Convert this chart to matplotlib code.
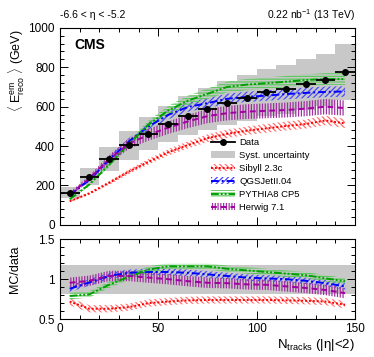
import matplotlib
matplotlib.use("Agg")
import matplotlib.pyplot as plt
from matplotlib.patches import Patch
from matplotlib.lines import Line2D
from matplotlib.ticker import MultipleLocator
import numpy as np

plt.rcParams['font.family'] = ['Liberation Sans', 'DejaVu Sans']
plt.rcParams['mathtext.fontset'] = 'custom'
plt.rcParams['mathtext.rm'] = 'Liberation Sans'
plt.rcParams['mathtext.it'] = 'Liberation Sans:italic'
plt.rcParams['mathtext.bf'] = 'Liberation Sans:bold'
plt.rcParams['hatch.linewidth'] = 0.9

# bin centres of N_tracks
nch = [5, 15, 25, 35, 45, 55, 65, 75, 85, 95, 105, 115, 125, 135, 145]
bin_half = 5

# data (GeV)
data = [164, 245, 333, 404, 463, 511, 555, 589, 617, 643, 672, 689, 713, 733, 776]
data_err = [4, 4, 4, 4, 4, 4, 4, 4, 5, 5, 5, 6, 7, 8, 10]
syst_up = 0.18
syst_dn = 0.18

# generator predictions (GeV)
sibyll = [120, 160, 213, 270, 320, 368, 405, 440, 462, 478, 490, 502, 512, 530, 515]
qgsjet = [152, 228, 330, 423, 499, 558, 598, 618, 640, 650, 656, 664, 670, 675, 677]
pythia = [130, 205, 305, 410, 508, 580, 630, 665, 700, 712, 719, 727, 735, 740, 740]
herwig = [155, 235, 332, 412, 457, 493, 525, 552, 567, 575, 579, 583, 590, 600, 593]

# MC/data ratios
sibyll_r = [0.72, 0.63, 0.63, 0.65, 0.70, 0.72, 0.735, 0.74, 0.74, 0.74, 0.74, 0.735, 0.73, 0.72, 0.68]
qgsjet_r = [0.88, 0.96, 1.04, 1.08, 1.09, 1.09, 1.08, 1.06, 1.04, 1.02, 1.01, 1.0, 0.98, 0.95, 0.91]
pythia_r = [0.79, 0.81, 0.93, 1.03, 1.12, 1.16, 1.16, 1.16, 1.13, 1.11, 1.09, 1.07, 1.05, 1.01, 0.975]
herwig_r = [0.955, 0.98, 1.04, 1.04, 1.02, 1.0, 0.975, 0.955, 0.95, 0.935, 0.93, 0.91, 0.89, 0.865, 0.825]

# relative model uncertainties
rel_unc = {'sibyll': 0.045, 'qgsjet': 0.04, 'pythia': 0.04, 'herwig': 0.065}

models = [
    ('sibyll', 'Sibyll 2.3c', sibyll, sibyll_r, 'red', '#ff7070', '\\\\\\\\\\\\', (0, (1, 1))),
    ('qgsjet', 'QGSJetII.04', qgsjet, qgsjet_r, 'blue', '#4a4aff', '//////', (0, (4, 1.5, 1, 1.5))),
    ('pythia', 'PYTHIA8 CP5', pythia, pythia_r, '#00a000', '#60c860', '------', (0, (4, 1, 1, 1, 1, 1))),
    ('herwig', 'Herwig 7.1', herwig, herwig_r, '#a000a0', '#a030a0', '||||||', (0, (3, 2))),
]

fig = plt.figure(figsize=(3.74, 3.57), dpi=100)
ax = fig.add_axes([0.160, 0.370, 0.789, 0.552])
axr = fig.add_axes([0.160, 0.106, 0.789, 0.224])

x = np.array(nch)

# systematic boxes
for xi, di in zip(nch, data):
    ax.fill_between([xi - bin_half, xi + bin_half], di * (1 - syst_dn), di * (1 + syst_up),
                    color='#c8c8c8', lw=0, zorder=1)
axr.axhspan(1 - syst_dn, 1 + syst_up, color='#c8c8c8', lw=0, zorder=1)

handles = []
for key, label, vals, ratio, col, hcol, hatch, ls in models:
    v = np.array(vals)
    r = np.array(ratio)
    u = rel_unc[key]
    ax.fill_between(x, v * (1 - u), v * (1 + u), facecolor='none', edgecolor=hcol,
                    hatch=hatch, lw=0, zorder=2)
    ax.plot(x, v, color=col, ls=ls, lw=1.4, zorder=3)
    axr.fill_between(x, r - u, r + u, facecolor='none', edgecolor=hcol,
                     hatch=hatch, lw=0, zorder=2)
    axr.plot(x, r, color=col, ls=ls, lw=1.4, zorder=3)
    handles.append((Patch(facecolor='none', edgecolor=hcol, hatch=hatch, lw=0),
                    Line2D([], [], color=col, ls=ls, lw=1.4)))

ax.errorbar(nch, data, yerr=data_err, xerr=bin_half, fmt='o', color='black',
            ms=4, elinewidth=1.3, capsize=0, zorder=5)

data_handle = (Line2D([], [], color='black', lw=1.3),
               Line2D([], [], color='black', marker='o', ms=4, ls='none'))
syst_patch = Patch(facecolor='#c8c8c8', edgecolor='none')
ax.legend([data_handle, syst_patch] + handles,
          ['Data', 'Syst. uncertainty'] + [m[1] for m in models],
          loc='upper left', bbox_to_anchor=(0.50, 0.46), frameon=False,
          fontsize=6.8, handlelength=2.5, handletextpad=0.5, labelspacing=0.42,
          borderaxespad=0)

for a in (ax, axr):
    a.set_xlim(0, 150)
    a.xaxis.set_major_locator(MultipleLocator(50))
    a.xaxis.set_minor_locator(MultipleLocator(10))
    a.tick_params(which='both', direction='in', top=True, right=True, labelsize=8.5)
    a.tick_params(which='major', length=6, width=0.7)
    a.tick_params(which='minor', length=3, width=0.7)
    for s in a.spines.values():
        s.set_linewidth(0.8)

ax.set_ylim(0, 1000)
ax.yaxis.set_major_locator(MultipleLocator(200))
ax.yaxis.set_minor_locator(MultipleLocator(40))
ax.tick_params(labelbottom=False)

axr.set_ylim(0.5, 1.5)
axr.yaxis.set_minor_locator(MultipleLocator(0.1))
axr.set_yticks([0.5, 1.0, 1.5])
axr.set_yticklabels(['0.5', '1', '1.5'])
axr.tick_params(axis='x', pad=3)

ax.text(0.05, 0.95, 'CMS', transform=ax.transAxes, fontsize=10, fontweight='bold',
        ha='left', va='top')
fig.text(0.160, 0.958, '-6.6 < \u03b7 < -5.2', fontsize=7.5, ha='left', va='center')
fig.text(0.949, 0.958, r'0.22 nb$^{\mathrm{-1}}$ (13 TeV)', fontsize=7.5, ha='right', va='center')

fig.text(0.045, 0.918, r'$\langle$ E$^{\mathrm{em}}_{\mathrm{reco}}$ $\rangle$ (GeV)',
         rotation=90, fontsize=9, ha='center', va='top')
fig.text(0.040, 0.245, 'MC/data', rotation=90, fontsize=9, ha='center', va='center')
fig.text(0.949, 0.035, 'N$_{\\mathrm{tracks}}$ (|\u03b7|<2)', fontsize=9.5, ha='right', va='center')

fig.savefig('out.png', dpi=100)
